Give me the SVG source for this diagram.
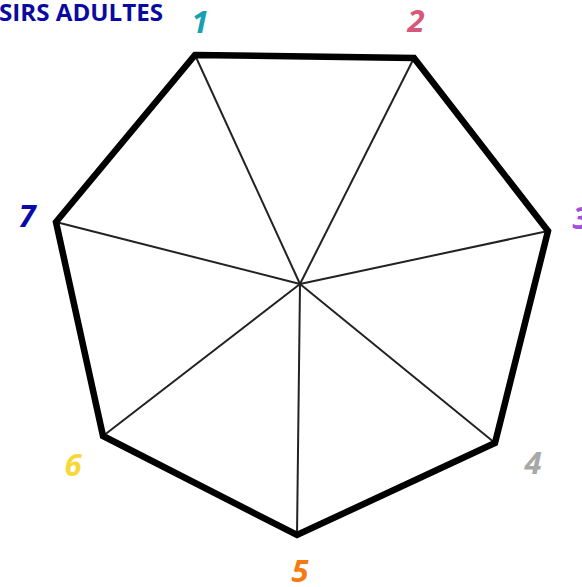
<svg xmlns="http://www.w3.org/2000/svg" width="582" height="587" viewBox="0 0 582 587">
<style>
.num{font-family:"Open Sans","DejaVu Sans",sans-serif;font-weight:bold;font-style:italic;font-size:31px;text-anchor:middle}
.spoke{stroke:#222;stroke-width:2;fill:none}
</style>
<rect width="582" height="587" fill="#fff"/>
<text x="-1" y="21" font-family="'Open Sans','DejaVu Sans',sans-serif" font-weight="bold" font-size="24" fill="#0a0aa0" textLength="164" lengthAdjust="spacingAndGlyphs">SIRS ADULTES</text>
<g id="connectors">
<line class="spoke" x1="300" y1="284" x2="195" y2="55"/>
<line class="spoke" x1="300" y1="284" x2="414" y2="58"/>
<line class="spoke" x1="300" y1="284" x2="548" y2="231"/>
<line class="spoke" x1="300" y1="284" x2="495" y2="443"/>
<line class="spoke" x1="300" y1="284" x2="297" y2="535"/>
<line class="spoke" x1="300" y1="284" x2="103" y2="436"/>
<line class="spoke" x1="300" y1="284" x2="56" y2="222"/>
</g>
<g id="heptagon">
<polygon points="195,55 414,58 548,231 495,443 297,535 103,436 56,222" fill="none" stroke="#000" stroke-width="6.5" stroke-linejoin="miter"/>
</g>
<g id="n1"><text class="num" x="200" y="33" fill="#16a0b0">1</text></g>
<g id="n2"><text class="num" x="416" y="32" fill="#d6577a">2</text></g>
<g id="n3"><text class="num" x="581" y="229" fill="#a24ee0">3</text></g>
<g id="n4"><text class="num" x="533" y="474" fill="#a8a8a8">4</text></g>
<g id="n5"><text class="num" x="300" y="582" fill="#f57a10">5</text></g>
<g id="n6"><text class="num" x="73" y="476" fill="#f8d838">6</text></g>
<g id="n7"><text class="num" x="27" y="227" fill="#0a0aa8">7</text></g>
</svg>
